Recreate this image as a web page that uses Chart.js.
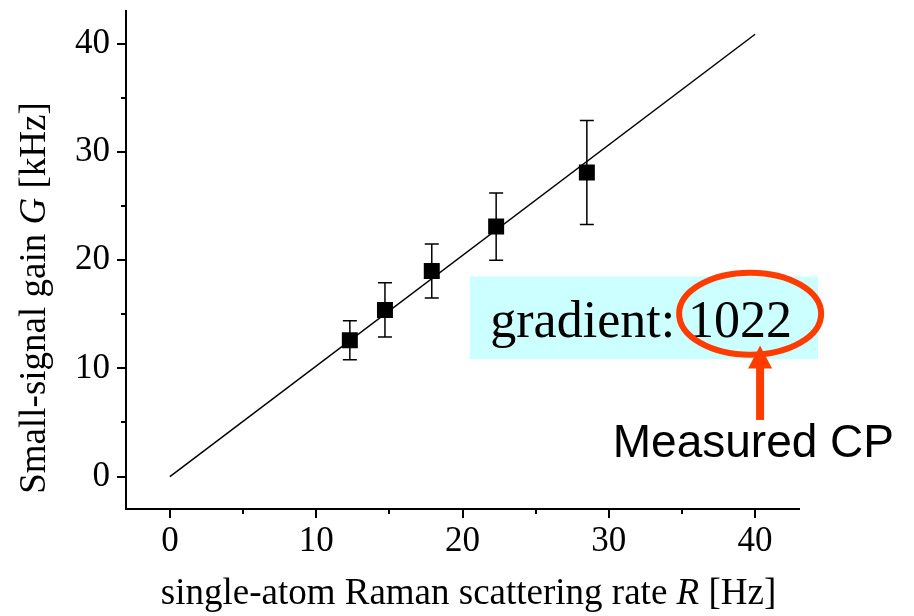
<!DOCTYPE html>
<html>
<head>
<meta charset="utf-8">
<script src="https://cdn.jsdelivr.net/npm/chart.js@4"></script>
<style>
  html, body { margin: 0; padding: 0; background: #fff; }
</style>
</head>
<body>
<canvas id="gainChart" width="914" height="616"></canvas>
<script>
// measured points: Raman rate R [Hz] vs small-signal gain G [kHz]
const rate = [12.3, 14.7, 17.9, 22.3, 28.5];
const gain = [12.6, 15.4, 19.0, 23.1, 28.1];
const gainErr = [1.8, 2.5, 2.5, 3.1, 4.8];

// linear fit through the origin, gradient given in Hz/kHz
const gradient = 1022;
const fitRange = [0, 40];

const xTicks = [0, 10, 20, 30, 40];
const yTicks = [0, 10, 20, 30, 40];
const minorTicks = [5, 15, 25, 35];

const serif = '"Liberation Serif", "Times New Roman", serif';
const sans = '"Liberation Sans", Arial, sans-serif';

// draws a line of text made of plain / italic pieces, centred on x
function drawRich(ctx, parts, x, y, size) {
    let total = 0;
    parts.forEach(p => {
        ctx.font = (p[1] ? 'italic ' : '') + size + 'px ' + serif;
        total += ctx.measureText(p[0]).width;
    });
    let cx = x - total / 2;
    ctx.textAlign = 'left';
    ctx.textBaseline = 'alphabetic';
    parts.forEach(p => {
        ctx.font = (p[1] ? 'italic ' : '') + size + 'px ' + serif;
        ctx.fillText(p[0], cx, y);
        cx += ctx.measureText(p[0]).width;
    });
}

// error bars, drawn under the markers
const errorBars = {
    id: 'errorBars',
    beforeDatasetsDraw(chart) {
        const ctx = chart.ctx, xs = chart.scales.x, ys = chart.scales.y;
        ctx.save();
        ctx.strokeStyle = '#000';
        ctx.lineWidth = 1.5;
        rate.forEach((r, i) => {
            const px = xs.getPixelForValue(r);
            const top = ys.getPixelForValue(gain[i] + gainErr[i]);
            const bot = ys.getPixelForValue(gain[i] - gainErr[i]);
            ctx.beginPath();
            ctx.moveTo(px, top); ctx.lineTo(px, bot);
            ctx.moveTo(px - 7, top); ctx.lineTo(px + 7, top);
            ctx.moveTo(px - 7, bot); ctx.lineTo(px + 7, bot);
            ctx.stroke();
        });
        ctx.restore();
    }
};

// outward tick marks (major + minor) and axis titles
const axisDecor = {
    id: 'axisDecor',
    afterDraw(chart) {
        const ctx = chart.ctx, xs = chart.scales.x, ys = chart.scales.y, a = chart.chartArea;
        ctx.save();
        ctx.strokeStyle = '#000';
        ctx.lineWidth = 2;
        ctx.beginPath();
        xTicks.concat(minorTicks).forEach(v => {
            const len = xTicks.includes(v) ? 9 : 5;
            const px = Math.round(xs.getPixelForValue(v));
            ctx.moveTo(px, a.bottom); ctx.lineTo(px, a.bottom + len);
        });
        yTicks.concat(minorTicks).forEach(v => {
            const len = yTicks.includes(v) ? 9 : 5;
            const py = Math.round(ys.getPixelForValue(v));
            ctx.moveTo(a.left, py); ctx.lineTo(a.left - len, py);
        });
        ctx.stroke();

        ctx.fillStyle = '#000';
        drawRich(ctx, [['single-atom Raman scattering rate ', false], ['R', true], [' [Hz]', false]],
            (a.left + a.right) / 2 + 6, 604, 37);

        ctx.translate(45, a.bottom - 211);
        ctx.rotate(-Math.PI / 2);
        drawRich(ctx, [['Small-signal gain ', false], ['G', true], [' [kHz]', false]], 0, 0, 37);
        ctx.restore();
    }
};

// gradient label with the highlighted value and its callout
const callout = {
    id: 'callout',
    afterDraw(chart) {
        const ctx = chart.ctx, xs = chart.scales.x, ys = chart.scales.y;
        const px = v => xs.getPixelForValue(v);
        const py = v => ys.getPixelForValue(v);
        ctx.save();

        ctx.fillStyle = '#ccffff';
        ctx.fillRect(px(20.5), py(18.5), px(44.3) - px(20.5), py(10.85) - py(18.5));

        ctx.fillStyle = '#000';
        ctx.font = '52px ' + serif;
        ctx.textAlign = 'left';
        ctx.textBaseline = 'alphabetic';
        ctx.fillText('gradient: ' + gradient, px(21.9), py(12.87));

        const red = '#ff3c00';
        ctx.strokeStyle = red;
        ctx.lineWidth = 6;
        ctx.beginPath();
        ctx.ellipse(px(39.66), py(15.05), 71, 41, 0, 0, Math.PI * 2);
        ctx.stroke();

        // arrow pointing up at the ellipse
        const ax = px(40.34), tip = py(12.1), tail = py(5.23);
        ctx.fillStyle = red;
        ctx.fillRect(ax - 4, tip + 20, 8, tail - tip - 20);
        ctx.beginPath();
        ctx.moveTo(ax, tip);
        ctx.lineTo(ax - 12, tip + 23);
        ctx.lineTo(ax + 12, tip + 23);
        ctx.closePath();
        ctx.fill();

        ctx.fillStyle = '#000';
        ctx.font = '46px ' + sans;
        ctx.fillText('Measured CP', px(30.27), py(1.83));
        ctx.restore();
    }
};

const tickFont = { family: serif, size: 35 };

new Chart(document.getElementById('gainChart').getContext('2d'), {
    type: 'scatter',
    data: {
        datasets: [
            {
                label: 'data',
                data: rate.map((r, i) => ({ x: r, y: gain[i] })),
                pointStyle: 'rect',
                pointRadius: 11.3,
                backgroundColor: '#000',
                borderColor: '#000',
                borderWidth: 0,
                order: 0
            },
            {
                type: 'line',
                label: 'fit',
                data: fitRange.map(r => ({ x: r, y: r * gradient / 1000 })),
                borderColor: '#000',
                borderWidth: 1.5,
                pointRadius: 0,
                fill: false,
                order: 1
            }
        ]
    },
    options: {
        responsive: false,
        animation: false,
        layout: { padding: { top: 8, right: 115, left: 0, bottom: 0 } },
        plugins: { legend: { display: false }, tooltip: { enabled: false } },
        scales: {
            x: {
                type: 'linear',
                min: -3,
                max: 43,
                afterBuildTicks: s => { s.ticks = xTicks.map(v => ({ value: v })); },
                afterFit: s => { s.height = 107; s.paddingLeft = 0; s.paddingRight = 0; },
                grid: { display: false, drawTicks: true, tickLength: 9 },
                border: { display: true, color: '#000', width: 2 },
                ticks: { color: '#000', font: tickFont, padding: 3, maxRotation: 0 }
            },
            y: {
                type: 'linear',
                min: -3,
                max: 43,
                afterBuildTicks: s => { s.ticks = yTicks.map(v => ({ value: v })); },
                afterFit: s => { s.width = 126; s.paddingTop = 0; s.paddingBottom = 0; },
                grid: { display: false, drawTicks: true, tickLength: 9 },
                border: { display: true, color: '#000', width: 2 },
                ticks: { color: '#000', font: tickFont, padding: 7 }
            }
        }
    },
    plugins: [errorBars, axisDecor, callout]
});
</script>
</body>
</html>
